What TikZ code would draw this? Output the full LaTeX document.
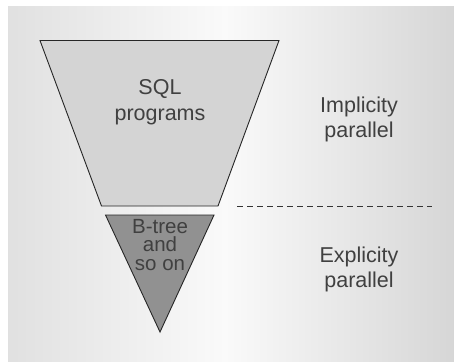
\documentclass[tikz,border=0pt]{standalone}
\usepackage{fontspec}
\setmainfont{Liberation Sans}
\begin{document}
\begin{tikzpicture}[x=1pt,y=-1pt,
  lbl/.style={font=\fontsize{21.5}{25.5}\selectfont, text=black!75, align=center, inner sep=0pt},
  shapeline/.style={draw=black!85, line width=0.9pt, line join=miter}]
\useasboundingbox (0,0) rectangle (454,361);
\fill[white] (0,0) rectangle (454,361);
\shade[left color=black!12, right color=black!2] (8,7) rectangle (225,361);
\shade[left color=black!2, right color=black!16] (225,7) rectangle (454,361);
% trapezoid
\draw[shapeline, fill=black!17] (40,40.5) -- (279,40.5) -- (218,206) -- (101.5,206) -- cycle;
% triangle
\draw[shapeline, fill=black!43] (105.5,215) -- (214,215) -- (160,332) -- cycle;
% dashed separator
\coordinate (dl) at (237,206);
\coordinate (dr) at (432,206);
\draw[black!80, line width=0.9pt, dash pattern=on 6pt off 4pt] (dl) -- (dr);
% labels
\node[lbl, font=\fontsize{20.5}{18.5}\selectfont] (btree) at (160,245) {B-tree\\and\\so on};
\node[lbl] (sql) at (160,102) {SQL\\programs};
\node[lbl] (impl) at (359,119.5) {Implicity\\parallel};
\node[lbl] (expl) at (359,269.5) {Explicity\\parallel};
\end{tikzpicture}
\end{document}
